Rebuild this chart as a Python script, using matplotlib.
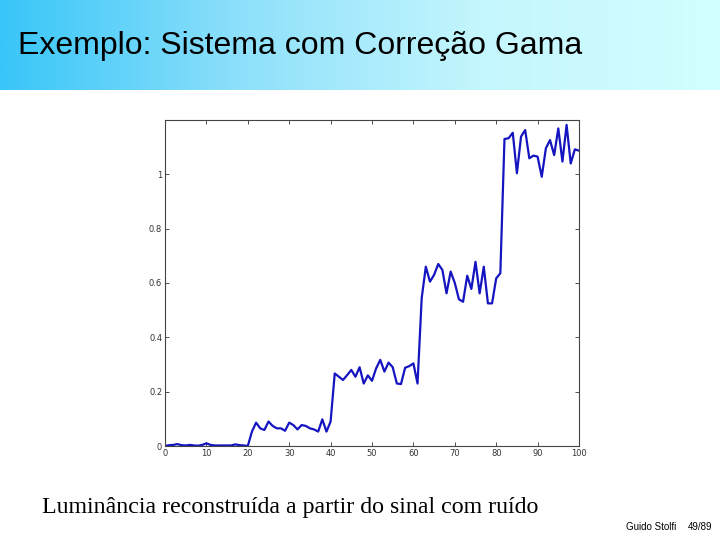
import numpy as np
import matplotlib
matplotlib.use("Agg")
import matplotlib.pyplot as plt
from matplotlib.colors import LinearSegmentedColormap

# ---- data ----
x_values = list(range(0, 101))
y_values = [
    0.000, 0.003, 0.004, 0.007, 0.003, 0.002, 0.004, 0.002, 0.001, 0.004,  # 0-9
    0.010, 0.004, 0.002, 0.002, 0.002, 0.002, 0.002, 0.006, 0.003, 0.002,  # 10-19
    0.000, 0.053, 0.086, 0.065, 0.059, 0.090, 0.074, 0.065, 0.065, 0.056,  # 20-29
    0.086, 0.077, 0.061, 0.077, 0.074, 0.065, 0.061, 0.053, 0.098, 0.053,  # 30-39
    0.090, 0.267, 0.255, 0.243, 0.261, 0.280, 0.255, 0.290, 0.230, 0.260,  # 40-49
    0.240, 0.286, 0.317, 0.274, 0.307, 0.290, 0.230, 0.228, 0.288, 0.294,  # 50-59
    0.304, 0.230, 0.544, 0.660, 0.605, 0.630, 0.670, 0.648, 0.562, 0.642,  # 60-69
    0.600, 0.540, 0.531, 0.627, 0.578, 0.678, 0.562, 0.660, 0.525, 0.525,  # 70-79
    0.617, 0.636, 1.130, 1.133, 1.153, 1.004, 1.139, 1.163, 1.059, 1.069,  # 80-89
    1.065, 0.991, 1.096, 1.126, 1.071, 1.169, 1.047, 1.182, 1.040, 1.092,  # 90-99
    1.087,                                                                 # 100
]
x_ticks = [0, 10, 20, 30, 40, 50, 60, 70, 80, 90, 100]
y_ticks = [0, 0.2, 0.4, 0.6, 0.8, 1.0]
y_tick_labels = ["0", "0.2", "0.4", "0.6", "0.8", "1"]

title_text = "Exemplo: Sistema com Correção Gama"
caption_text = "Luminância reconstruída a partir do sinal com ruído"
footer_author = "Guido Stolfi"
footer_page = "49/89"

# ---- figure ----
fig = plt.figure(figsize=(7.2, 5.4), dpi=100)
fig.patch.set_facecolor("white")

# gradient title bar
bar_ax = fig.add_axes([0, 1 - 90 / 540, 1, 90 / 540])
cmap = LinearSegmentedColormap.from_list(
    "bar", ["#38c6f8", "#8ee0fb", "#c4f6fd", "#d2ffff"])
grad = np.linspace(0, 1, 512).reshape(1, -1)
bar_ax.imshow(grad, aspect="auto", cmap=cmap, extent=[0, 1, 0, 1])
bar_ax.set_axis_off()

fig.text(18 / 720, 1 - 46 / 540, title_text, fontsize=23,
         family="Liberation Sans", color="#000000", va="center", ha="left")

# main axes
ax = fig.add_axes([165 / 720, 1 - 446 / 540, (579 - 165) / 720, (446 - 120) / 540])
ax.plot(x_values, y_values, color="#1414c0", linewidth=1.6)
ax.set_xlim(0, 100)
ax.set_ylim(0, 1.2)
ax.set_xticks(x_ticks)
ax.set_xticklabels([str(t) for t in x_ticks])
ax.set_yticks(y_ticks)
ax.set_yticklabels(y_tick_labels)
ax.tick_params(direction="in", top=True, right=True, length=3, width=0.6,
               labelsize=6, colors="#333333", pad=2)
for s in ax.spines.values():
    s.set_linewidth(0.8)
    s.set_color("#444444")

fig.text(42 / 720, 1 - 508 / 540, caption_text, fontsize=17.2,
         family="Liberation Serif", color="black", va="center", ha="left")

fig.text(626 / 720, 1 - 527 / 540, footer_author, fontsize=7,
         family="Liberation Sans", color="black", va="center", ha="left")
fig.text(688 / 720, 1 - 527 / 540, footer_page, fontsize=7,
         family="Liberation Sans", color="black", va="center", ha="left")

fig.savefig("out.png", dpi=100)
